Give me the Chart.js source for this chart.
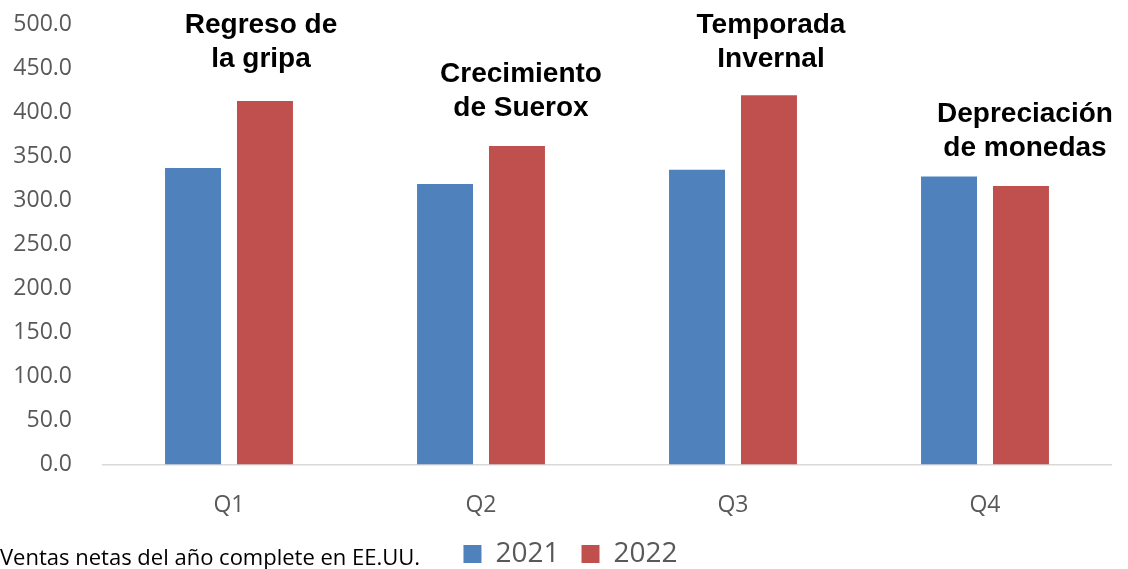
<!DOCTYPE html>
<html>
<head>
<meta charset="utf-8">
<script src="https://cdn.jsdelivr.net/npm/chart.js@4/dist/chart.umd.min.js"></script>
<style>
  html, body { margin: 0; padding: 0; background: #ffffff; }
  #wrap { width: 1128px; height: 569px; position: relative; }
</style>
</head>
<body>
<div id="wrap"><canvas id="c" width="1128" height="569"></canvas></div>
<script>
// ---- data ----
const categories = ['Q1', 'Q2', 'Q3', 'Q4'];
const sales2021 = [336.5, 318.5, 334.5, 327.0];
const sales2022 = [412.5, 361.5, 419.0, 316.0];
const seriesLabels = ['2021', '2022'];
const yTicks = [0, 50, 100, 150, 200, 250, 300, 350, 400, 450, 500];
const footnote = 'Ventas netas del año complete en EE.UU.';
const notes = [
  ['Regreso de', 'la gripa'],
  ['Crecimiento', 'de Suerox'],
  ['Temporada', 'Invernal'],
  ['Depreciación', 'de monedas']
];

// annotation placement (styling/position, separate from data)
const notePlace = [
  { dx: 32, yv: 499 },
  { dx: 40, yv: 443 },
  { dx: 38, yv: 499 },
  { dx: 40, yv: 398 }
];

const annotationPlugin = {
  id: 'notes',
  afterLayout(chart) {
    if (chart.legend) { chart.legend.left += 30; }
  },
  afterDatasetsDraw(chart) {
    const ctx = chart.ctx;
    const xs = chart.scales.x, ys = chart.scales.y;
    ctx.save();
    ctx.font = 'bold 28px "Liberation Sans", Arial, sans-serif';
    ctx.fillStyle = '#000000';
    ctx.textAlign = 'center';
    ctx.textBaseline = 'middle';
    notes.forEach((lines, i) => {
      const x = xs.getPixelForValue(i) + notePlace[i].dx;
      const y0 = ys.getPixelForValue(notePlace[i].yv);
      lines.forEach((t, k) => ctx.fillText(t, x, y0 + k * 34));
    });
    ctx.restore();
  },
  afterDraw(chart) {
    const ctx = chart.ctx;
    ctx.save();
    ctx.font = '22px "Open Sans", sans-serif';
    ctx.fillStyle = '#000000';
    ctx.textAlign = 'left';
    ctx.textBaseline = 'alphabetic';
    ctx.fillText(footnote, 0, 565);
    ctx.restore();
  }
};

new Chart(document.getElementById('c'), {
  type: 'bar',
  data: {
    labels: categories,
    datasets: [
      { label: seriesLabels[0], data: sales2021, backgroundColor: '#4F81BD', borderWidth: 0 },
      { label: seriesLabels[1], data: sales2022, backgroundColor: '#C0504D', borderWidth: 0 }
    ]
  },
  options: {
    responsive: false,
    animation: false,
    devicePixelRatio: 1,
    layout: { padding: { top: 0, right: 17, bottom: 0, left: 0 } },
    datasets: { bar: { categoryPercentage: 0.571, barPercentage: 0.778 } },
    plugins: {
      legend: {
        display: true,
        position: 'bottom',
        maxHeight: 51,
        labels: {
          boxWidth: 18,
          boxHeight: 18,
          padding: 22,
          color: '#595959',
          font: { family: '"Open Sans", sans-serif', size: 28 }
        }
      },
      tooltip: { enabled: false }
    },
    scales: {
      y: {
        min: 0,
        max: 500,
        afterBuildTicks(scale) { scale.ticks = yTicks.map(v => ({ value: v })); },
        afterFit(scale) { scale.width = 103; scale.paddingTop = 24; scale.paddingBottom = 0; },
        grid: { display: false, drawTicks: false },
        border: { display: false },
        ticks: {
          padding: 31,
          color: '#595959',
          font: { family: '"Open Sans", sans-serif', size: 23 },
          callback: v => Number(v).toFixed(1)
        }
      },
      x: {
        afterFit(scale) {
          const lh = scale.chart.legend ? scale.chart.legend.height : 0;
          scale.height = scale.chart.height - 464.5 - lh;
        },
        grid: { display: false, drawTicks: false },
        border: { display: true, color: '#D9D9D9', width: 1.5 },
        ticks: {
          padding: 27,
          color: '#595959',
          font: { family: '"Open Sans", sans-serif', size: 23 }
        }
      }
    }
  },
  plugins: [annotationPlugin]
});
</script>
</body>
</html>
